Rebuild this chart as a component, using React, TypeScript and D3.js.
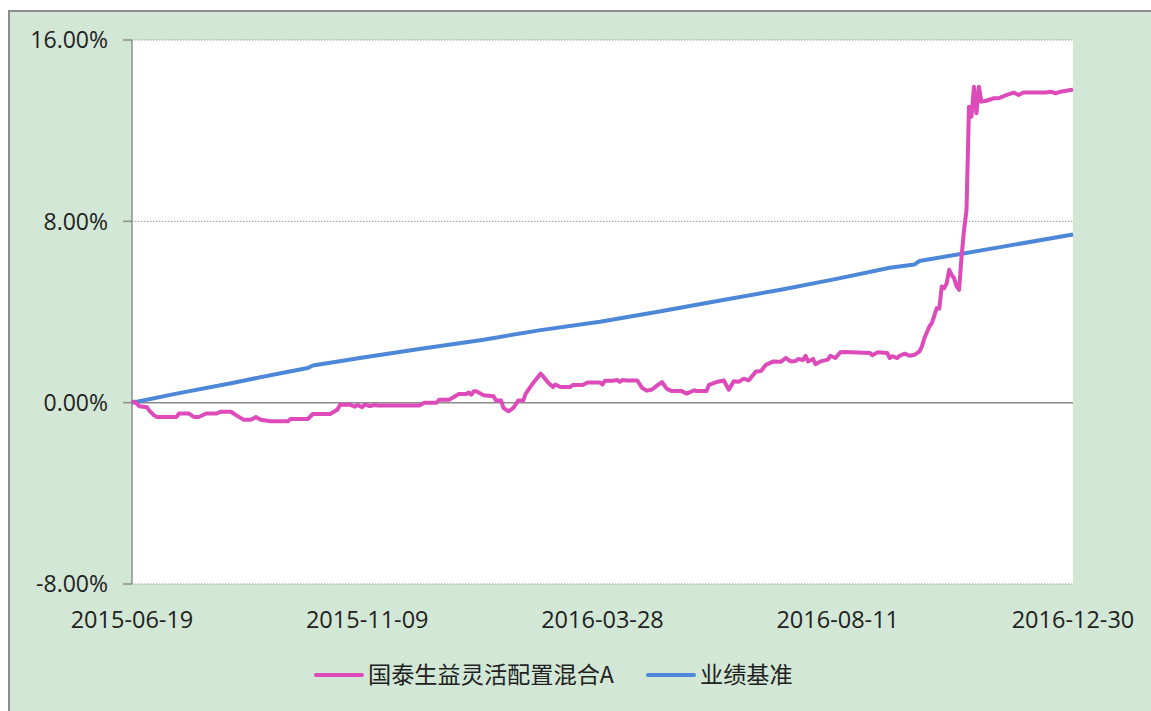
import React from "react";
import * as d3 from "d3";

// trading-day index (0 = 2015-06-19, 380 = 2016-12-30), cumulative return in %
const fundName = "国泰生益灵活配置混合A";
const benchName = "业绩基准";

const xTickDays = [0, 95, 190, 285, 380];
const xTickLabels = ["2015-06-19", "2015-11-09", "2016-03-28", "2016-08-11", "2016-12-30"];
const yTicks = [-8, 0, 8, 16];

const fundSeries: [number, number][] = [
  [0, 0], [1, 0.05], [3, -0.16], [6, -0.2], [7, -0.35], [9, -0.57], [10, -0.63], [18, -0.63],
  [19, -0.48], [23, -0.48], [25, -0.63], [27, -0.63], [30, -0.48], [34, -0.48], [36, -0.4],
  [40, -0.4], [42, -0.55], [45, -0.75], [48, -0.75], [50, -0.63], [52, -0.75], [56, -0.82],
  [63, -0.82], [64, -0.72], [71, -0.72], [73, -0.5], [80, -0.5], [83, -0.3], [84, -0.09],
  [88, -0.09], [90, -0.18], [91, -0.1], [93, -0.2], [94, -0.08], [96, -0.15], [98, -0.1],
  [99, -0.12], [116, -0.12], [118, 0], [123, 0], [124, 0.13], [128, 0.13], [130, 0.25],
  [132, 0.38], [135, 0.38], [136, 0.45], [137, 0.35], [138, 0.5], [139, 0.5], [142, 0.33],
  [146, 0.28], [147, 0.1], [149, 0.1], [150, -0.23], [152, -0.38], [154, -0.23], [156, 0.1],
  [158, 0.1], [159, 0.4], [162, 0.87], [165, 1.28], [166, 1.17], [168, 0.89], [170, 0.69],
  [171, 0.8], [173, 0.69], [177, 0.69], [178, 0.78], [182, 0.78], [184, 0.89], [189, 0.89],
  [190, 0.8], [191, 0.97], [194, 0.97], [196, 1.0], [197, 0.92], [198, 1.0], [200, 0.98],
  [204, 0.98], [206, 0.65], [208, 0.53], [210, 0.58], [212, 0.75], [214, 0.91], [216, 0.61],
  [218, 0.51], [222, 0.51], [224, 0.4], [227, 0.55], [228, 0.51], [232, 0.51], [233, 0.79],
  [236, 0.91], [239, 0.98], [241, 0.57], [243, 0.94], [245, 0.92], [247, 1.06], [249, 0.98],
  [252, 1.38], [254, 1.4], [256, 1.67], [259, 1.82], [262, 1.8], [264, 1.97], [266, 1.82],
  [268, 1.84], [269, 1.93], [271, 1.88], [272, 2.07], [273, 1.82], [275, 1.93], [276, 1.7],
  [278, 1.82], [281, 1.9], [282, 2.07], [284, 1.97], [286, 2.22], [288, 2.23], [298, 2.19],
  [299, 2.09], [301, 2.22], [305, 2.19], [306, 1.97], [307, 2.05], [309, 1.97], [310, 2.07],
  [312, 2.16], [314, 2.07], [316, 2.11], [318, 2.26], [319, 2.48], [320, 2.85], [322, 3.36],
  [323, 3.51], [325, 4.17], [326, 4.15], [327, 5.13], [328, 5.05], [329, 5.27], [330, 5.86],
  [331, 5.64], [332, 5.49], [333, 5.13], [334, 4.98], [335, 6.45], [336, 7.62], [337, 8.5],
  [338, 13.06], [339, 12.62], [340, 13.94], [341, 12.77], [342, 13.94], [343, 13.28],
  [345, 13.32], [348, 13.43], [350, 13.43], [353, 13.57], [356, 13.68], [358, 13.57],
  [360, 13.68], [369, 13.68], [371, 13.72], [373, 13.65], [375, 13.72], [379, 13.79], [380, 13.82],
];

const benchSeries: [number, number][] = [
  [0, 0], [19, 0.42], [40, 0.86], [60, 1.3], [71, 1.53], [73, 1.64], [94, 2.0], [116, 2.37],
  [142, 2.78], [165, 3.2], [189, 3.57], [213, 4.02], [237, 4.5], [262, 4.98], [284, 5.45],
  [306, 5.95], [316, 6.1], [318, 6.25], [350, 6.85], [380, 7.42],
];

const fundColor = "#dc4bb9";
const benchColor = "#4d87d8";

export default function App() {
  const left = 132, right = 1073, top = 40, bottom = 584;
  const x = d3.scaleLinear().domain([0, 380]).range([left, right]);
  const y = d3.scaleLinear().domain([-8, 16]).range([bottom, top]);
  const line = d3.line<[number, number]>().x((d) => x(d[0])).y((d) => y(d[1]));
  const font = "'Open Sans', 'Liberation Sans', sans-serif";
  const cjk = "'Noto Sans CJK SC', sans-serif";

  return (
    <svg width={1151} height={711} style={{ position: "absolute", left: 0, top: 0 }}>
      <rect x={9} y={11} width={1160} height={720} fill="#d2e7d5" stroke="#8c8c8c" strokeWidth={2} />
      <rect x={left} y={top} width={right - left} height={bottom - top} fill="#fff" />

      {/* gridlines */}
      {yTicks.map((t) =>
        t === 0 ? null : (
          <line key={t} x1={left} x2={right} y1={y(t)} y2={y(t)} stroke="#9a9a9a" strokeWidth={1} strokeDasharray="1.5,1.5" />
        )
      )}
      <line x1={left} x2={right} y1={y(0)} y2={y(0)} stroke="#8c8c8c" strokeWidth={1.5} />
      <line x1={left} x2={left} y1={top} y2={bottom} stroke="#8c8c8c" strokeWidth={1.5} />
      {yTicks.map((t) => (
        <g key={"yt" + t}>
          <line x1={left - 9} x2={left} y1={y(t)} y2={y(t)} stroke="#8c8c8c" strokeWidth={1.5} />
          <text x={108} y={y(t)} dy="0.36em" textAnchor="end" fontFamily={font} fontSize={23} fill="#222">
            {t.toFixed(2) + "%"}
          </text>
        </g>
      ))}

      {xTickDays.map((d, i) => (
        <text key={d} x={x(d)} y={628} textAnchor="middle" fontFamily={font} fontSize={23.5} fill="#222">
          {xTickLabels[i]}
        </text>
      ))}

      <path d={line(benchSeries) ?? ""} fill="none" stroke={benchColor} strokeWidth={4} strokeLinejoin="round" />
      <path d={line(fundSeries) ?? ""} fill="none" stroke={fundColor} strokeWidth={4} strokeLinejoin="round" />

      {/* legend */}
      <line x1={316} x2={362} y1={675} y2={675} stroke={fundColor} strokeWidth={4} strokeLinecap="round" />
      <text x={368} y={675} dy="0.36em" fontFamily={cjk} fontSize={23.2} fill="#222">{fundName}</text>
      <line x1={648} x2={694} y1={675} y2={675} stroke={benchColor} strokeWidth={4} strokeLinecap="round" />
      <text x={700} y={675} dy="0.36em" fontFamily={cjk} fontSize={23.2} fill="#222">{benchName}</text>
    </svg>
  );
}
